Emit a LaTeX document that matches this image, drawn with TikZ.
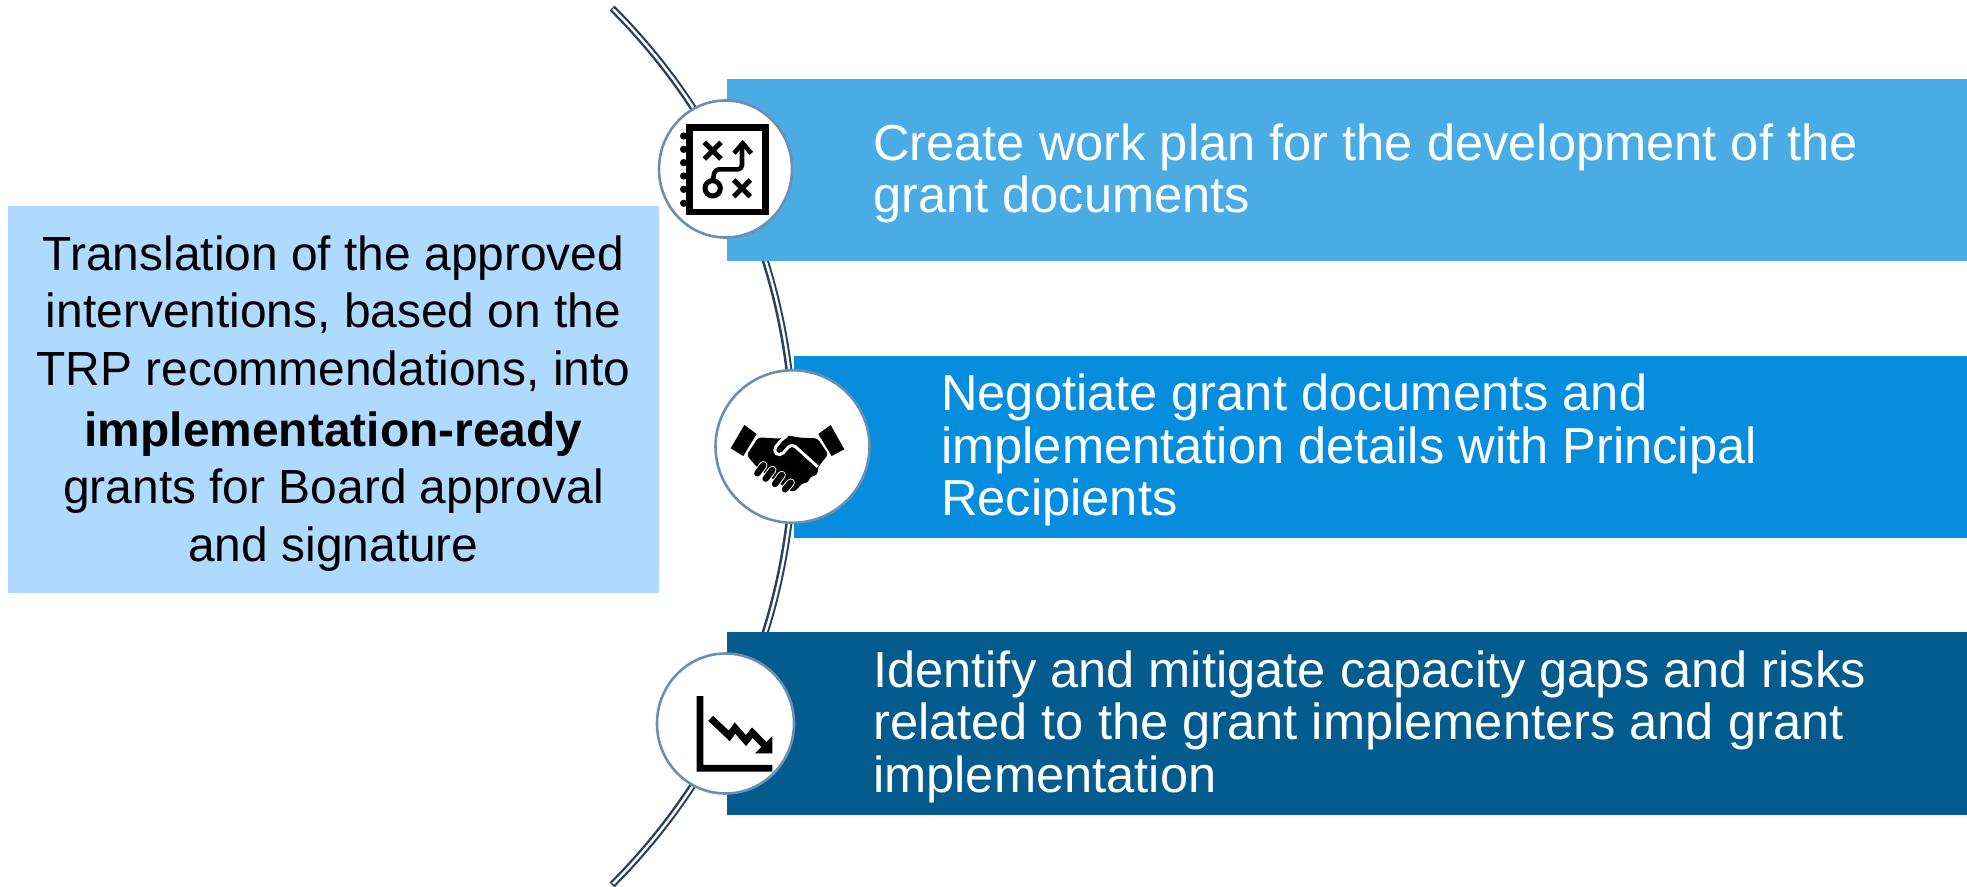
\documentclass[tikz,border=0pt]{standalone}
\usepackage{fontspec}
\usetikzlibrary{shapes.geometric}
\setmainfont{Liberation Sans}
\definecolor{barA}{HTML}{4AACE4}
\definecolor{barB}{HTML}{068DDD}
\definecolor{barC}{HTML}{045B8E}
\definecolor{leftbox}{HTML}{AEDAFF}
\definecolor{ring}{HTML}{6A8FB0}
\definecolor{arcline}{HTML}{2C4257}
\tikzset{
  barbox/.style={draw=none,inner sep=0pt,minimum width=#1,minimum height=182.5pt,anchor=west},
  rowtext/.style={text=white,align=left,anchor=west,inner sep=0pt,font=\fontsize{50.6}{52.5}\selectfont},
  sidetext/.style={text=black,align=center,inner sep=0pt,font=\fontsize{47.9}{57.5}\selectfont},
  iconring/.style={ellipse,draw=ring,line width=2.6pt,fill=white,inner sep=0pt},
  iconstroke/.style={draw=black,line cap=round,line join=round},
}
\begin{document}
\begin{tikzpicture}[x=1pt,y=-1pt]
\useasboundingbox (0,0) rectangle (1967,886);
\coordinate (arcstart) at (612,8);
\draw[arcline,line width=7pt] (arcstart) arc[start angle=-45,end angle=45,radius=620];
\draw[white,line width=2.4pt,shorten >=1.5pt,shorten <=1.5pt] (arcstart) arc[start angle=-45,end angle=45,radius=620];

\node[barbox=1240pt,fill=barA] (r1) at (727,170) {};
\node[barbox=1173pt,fill=barB] (r2) at (794,447) {};
\node[barbox=1240pt,fill=barC] (r3) at (727,723.5) {};
\node[fill=leftbox,inner sep=0pt,minimum width=651pt,minimum height=387pt] (side) at (333.5,399.5) {};

\node[rowtext] (t1) at ([xshift=146pt,yshift=-3.5pt]r1.west) {Create work plan for the development of the\\grant documents};
\node[rowtext] (t2) at ([xshift=147pt,yshift=-3pt]r2.west) {Negotiate grant documents and\\implementation details with Principal\\Recipients};
\node[rowtext] (t3) at ([xshift=146pt,yshift=-3pt]r3.west) {Identify and mitigate capacity gaps and risks\\related to the grant implementers and grant\\implementation};
\node[sidetext] (st) at ([yshift=-4pt]side.center) {Translation of the approved\\interventions, based on the\\TRP recommendations, into\\[3.5pt]\textbf{implementation-ready}\\grants for Board approval\\and signature};

\node[iconring,minimum width=133pt,minimum height=137pt] (c1) at (725.5,169) {};
\node[iconring,minimum width=154pt,minimum height=152.5pt] (c2) at (792.5,446.5) {};
\node[iconring,minimum width=137pt,minimum height=140pt] (c3) at (725.5,723.5) {};

% work plan icon
\begin{scope}[shift={(640,80)},x=0.3333pt,y=-0.3333pt]
  \foreach \yy in {168,208,248,288,328,370} \fill (131,\yy) circle[radius=11];
  \draw[line width=6.8pt,miter limit=10] (148,143) rectangle (377,396);
  \draw[iconstroke,line width=5pt,line cap=butt] (193,187) -- (243,237) (243,187) -- (193,237);
  \draw[iconstroke,line width=5pt,line cap=butt] (281,300) -- (331,350) (331,300) -- (281,350);
  \draw[iconstroke,line width=5pt] (218,325) circle[radius=23];
  \draw[iconstroke,line width=4.6pt,line cap=butt,rounded corners=4pt] (218,302) -- (225,268) -- (306,268) -- (306,195);
  \draw[iconstroke,line width=4.6pt,line cap=butt,line join=miter] (282,220) -- (308,190) -- (334,220);
\end{scope}

% handshake icon
\begin{scope}[shift={(700,360)},x=0.3333pt,y=-0.3333pt]
  \fill (133,195) -- (170,222) -- (130,288) -- (92,265) -- cycle;
  \fill (392,195) -- (433,268) -- (395,288) -- (355,222) -- cycle;
  \fill[rounded corners=3pt] (175,232) -- (240,236) -- (262,226) -- (300,233) -- (352,235) -- (385,283) -- (355,320)
     -- (352,345) -- (330,350) -- (325,368) -- (305,370) -- (295,385) -- (278,397) -- (180,330) -- (165,315) -- (140,285) -- cycle;
  \foreach \xa/\ya/\xb/\yb in {172/340/190/316,197/356/217/330,225/372/245/345,255/388/272/368}{
    \draw[white,line width=8.4pt,line cap=round] (\xa,\ya) -- (\xb,\yb);
    \draw[black,line width=6.4pt,line cap=round] (\xa,\ya) -- (\xb,\yb);
  }
  \draw[white,line width=3pt,line join=round,rounded corners=5pt] (353,320) -- (275,250) -- (240,290) -- (218,272) -- (248,235) -- (262,227);
\end{scope}

% falling chart icon
\begin{scope}[shift={(640,640)},x=0.3333pt,y=-0.3333pt]
  \fill (170,168) -- (190,168) -- (190,375) -- (397,375) -- (397,395) -- (170,395) -- cycle;
  \draw[line width=7pt,line join=miter] (212,235) -- (268,288) -- (285,264) -- (318,302) -- (337,278) -- (378,320);
  \fill (397,288) -- (397,340) -- (345,340) -- cycle;
\end{scope}
\end{tikzpicture}
\end{document}
